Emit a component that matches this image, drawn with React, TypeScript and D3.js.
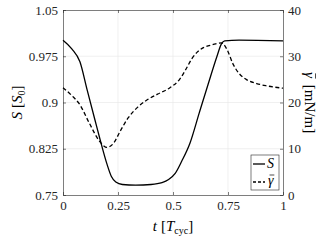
import { useEffect, useRef } from "react";
import * as d3 from "d3";

// t [T_cyc] vs. S [S0]
const sTime = [0, 0.04, 0.077, 0.11, 0.145, 0.17, 0.2, 0.22, 0.24, 0.27, 0.33, 0.4, 0.45, 0.48, 0.51, 0.54, 0.577, 0.62, 0.66, 0.7, 0.72, 0.735, 0.8, 1.0];
const sValue = [1.001, 0.987, 0.966, 0.92, 0.872, 0.838, 0.8, 0.78, 0.771, 0.767, 0.766, 0.767, 0.77, 0.775, 0.785, 0.805, 0.834, 0.884, 0.93, 0.975, 0.995, 1.0, 1.001, 1.0];

// t [T_cyc] vs. gamma [mN/m]
const gTime = [0, 0.04, 0.077, 0.12, 0.168, 0.2, 0.23, 0.26, 0.295, 0.34, 0.38, 0.43, 0.486, 0.53, 0.56, 0.586, 0.61, 0.636, 0.68, 0.72, 0.745, 0.773, 0.8, 0.836, 0.88, 0.926, 1.0];
const gValue = [23.2, 21.5, 19.5, 15.5, 11.5, 10.3, 11.2, 13.8, 16.6, 19.0, 20.5, 21.8, 23.2, 25.0, 27.3, 29.5, 30.9, 31.8, 32.5, 32.9, 31.5, 28.3, 26.3, 24.9, 24.1, 23.6, 23.1];

const xTicks = [0, 0.25, 0.5, 0.75, 1];
const xTickLabels = ["0", "0.25", "0.5", "0.75", "1"];
const yLeftTicks = [0.75, 0.825, 0.9, 0.975, 1.05];
const yLeftLabels = ["0.75", "0.825", "0.9", "0.975", "1.05"];
const yRightTicks = [0, 10, 20, 30, 40];

const FONT = "'Liberation Serif', serif";

const App = () => {
  const svgRef = useRef<SVGSVGElement | null>(null);

  useEffect(() => {
    if (!svgRef.current) return;
    const W = 327;
    const H = 245;
    const margin = { top: 10, right: 44, bottom: 50, left: 63 };
    const width = W - margin.left - margin.right;
    const height = H - margin.top - margin.bottom;

    d3.select(svgRef.current).selectAll("*").remove();
    const svg = d3.select(svgRef.current).attr("viewBox", `0 0 ${W} ${H}`);
    const g = svg.append("g").attr("transform", `translate(${margin.left}, ${margin.top})`);

    const x = d3.scaleLinear().domain([0, 1]).range([0, width]);
    const yL = d3.scaleLinear().domain([0.75, 1.05]).range([height, 0]);
    const yR = d3.scaleLinear().domain([0, 40]).range([height, 0]);

    // 그리드
    g.append("g")
      .selectAll("line")
      .data(xTicks.slice(1, -1))
      .enter()
      .append("line")
      .attr("x1", (d) => x(d))
      .attr("x2", (d) => x(d))
      .attr("y1", 0)
      .attr("y2", height)
      .attr("stroke", "#e6e6e6")
      .attr("stroke-width", 0.6);
    g.append("g")
      .selectAll("line")
      .data(yLeftTicks.slice(1, -1))
      .enter()
      .append("line")
      .attr("x1", 0)
      .attr("x2", width)
      .attr("y1", (d) => yL(d))
      .attr("y2", (d) => yL(d))
      .attr("stroke", "#e6e6e6")
      .attr("stroke-width", 0.6);

    // 축
    const styleAxis = (sel: any) => {
      sel.select(".domain").attr("stroke", "#262626").attr("stroke-width", 0.6);
      sel.selectAll(".tick line").attr("stroke", "#262626").attr("stroke-width", 0.6);
      sel.selectAll("text").attr("fill", "#262626").style("font-size", "13px");
    };

    g.append("g")
      .attr("transform", `translate(0, ${height})`)
      .call(
        d3.axisBottom(x).tickValues(xTicks).tickSizeInner(-3).tickSizeOuter(0).tickPadding(6)
          .tickFormat((_d, i) => xTickLabels[i])
      )
      .call(styleAxis);
    g.append("g")
      .call(d3.axisTop(x).tickValues(xTicks).tickSizeInner(-3).tickSizeOuter(0).tickFormat(() => ""))
      .call(styleAxis);
    g.append("g")
      .call(
        d3.axisLeft(yL).tickValues(yLeftTicks).tickSizeInner(-3).tickSizeOuter(0).tickPadding(5)
          .tickFormat((_d, i) => yLeftLabels[i])
      )
      .call(styleAxis);
    g.append("g")
      .attr("transform", `translate(${width}, 0)`)
      .call(d3.axisRight(yR).tickValues(yRightTicks).tickSizeInner(-3).tickSizeOuter(0).tickPadding(5))
      .call(styleAxis);

    // 선
    const sData = sTime.map((t, i) => ({ t, v: sValue[i] }));
    const gData = gTime.map((t, i) => ({ t, v: gValue[i] }));

    const sLine = d3.line<{ t: number; v: number }>().x((d) => x(d.t)).y((d) => yL(d.v)).curve(d3.curveMonotoneX);
    const gLine = d3.line<{ t: number; v: number }>().x((d) => x(d.t)).y((d) => yR(d.v)).curve(d3.curveMonotoneX);

    g.append("path").datum(gData).attr("fill", "none").attr("stroke", "#000")
      .attr("stroke-width", 1.3).attr("stroke-dasharray", "4,2.5").attr("d", gLine as any);
    g.append("path").datum(sData).attr("fill", "none").attr("stroke", "#000")
      .attr("stroke-width", 1.3).attr("d", sLine as any);

    // 범례
    const lg = g.append("g").attr("transform", `translate(${width - 32}, ${height - 40})`);
    lg.append("rect").attr("width", 28).attr("height", 35).attr("fill", "#fff")
      .attr("stroke", "#262626").attr("stroke-width", 0.6);
    lg.append("line").attr("x1", 2).attr("x2", 14).attr("y1", 9).attr("y2", 9)
      .attr("stroke", "#000").attr("stroke-width", 1.3);
    lg.append("line").attr("x1", 2).attr("x2", 14).attr("y1", 27).attr("y2", 27)
      .attr("stroke", "#000").attr("stroke-width", 1.3).attr("stroke-dasharray", "3,2");
    lg.append("text").attr("x", 16).attr("y", 13).style("font-size", "14px")
      .style("font-style", "italic").text("S");
    const lgG = lg.append("text").attr("x", 17).attr("y", 30).style("font-size", "14px")
      .style("font-style", "italic").text("\u03b3");

    // 축 라벨
    const xl = svg.append("text").attr("x", margin.left + width / 2).attr("y", 231)
      .attr("text-anchor", "middle").style("font-size", "15px");
    xl.append("tspan").style("font-style", "italic").text("t");
    xl.append("tspan").attr("dx", 4).text("[");
    xl.append("tspan").style("font-style", "italic").text("T");
    xl.append("tspan").attr("dy", 3).style("font-size", "10px").text("cyc");
    xl.append("tspan").attr("dy", -3).text("]");

    const yl = svg.append("text").attr("transform", `translate(22, ${margin.top + height / 2}) rotate(-90)`)
      .attr("text-anchor", "middle").style("font-size", "15px");
    yl.append("tspan").style("font-style", "italic").text("S");
    yl.append("tspan").attr("dx", 4).text("[");
    yl.append("tspan").style("font-style", "italic").text("S");
    yl.append("tspan").attr("dy", 3).style("font-size", "10px").text("0");
    yl.append("tspan").attr("dy", -3).text("]");

    const yrG = svg.append("g").attr("transform", `translate(305, ${margin.top + height / 2}) rotate(90)`);
    const yr = yrG.append("text").attr("text-anchor", "middle").style("font-size", "15px");
    yr.append("tspan").style("font-style", "italic").text("\u03b3");
    yr.append("tspan").attr("dx", 7).text("[mN/m]");

    // 모든 텍스트에 세리프 폰트 지정
    svg.selectAll("text").style("font-family", FONT);

    // 감마 위에 바(overline) 그리기
    const addBar = (parent: any, textNode: SVGTextElement, idx: number, dy: number) => {
      const s = textNode.getStartPositionOfChar(idx);
      const e = textNode.getEndPositionOfChar(idx);
      parent.append("line").attr("x1", s.x + 1.5).attr("x2", e.x + 0.8)
        .attr("y1", s.y - dy).attr("y2", s.y - dy).attr("stroke", "#000").attr("stroke-width", 0.7);
    };
    addBar(lg, lgG.node() as SVGTextElement, 0, 10);
    addBar(yrG, yr.node() as SVGTextElement, 0, 10.5);
  }, []);

  return (
    <div style={{ position: "fixed", left: 0, top: 0, width: 327, height: 245, background: "#fff" }}>
      <svg ref={svgRef} width={327} height={245}></svg>
    </div>
  );
};

export default App;
